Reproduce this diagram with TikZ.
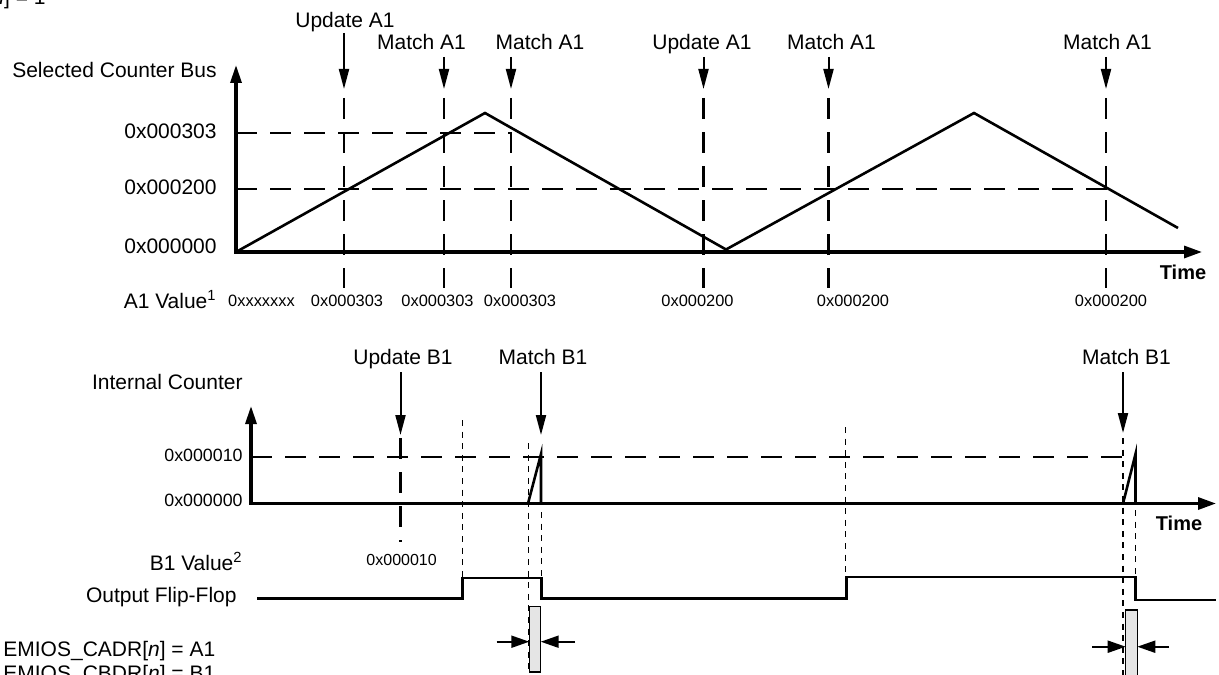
\documentclass[tikz,border=0pt]{standalone}
\usepackage{fontspec}
\setmainfont{Liberation Sans}
\usetikzlibrary{arrows.meta}
\begin{document}
\begin{tikzpicture}[x=0.5pt,y=-0.5pt,
  lbl/.style={font=\fontsize{10.5}{12}\selectfont, inner sep=0pt},
  midlbl/.style={font=\fontsize{8.9}{10}\selectfont, inner sep=0pt},
  hexs/.style={font=\fontsize{8.2}{10}\selectfont, inner sep=0pt},
  timelbl/.style={font=\bfseries\fontsize{10}{12}\selectfont, inner sep=0pt},
  axisline/.style={line width=1.6pt, line join=miter, {Triangle[length=9pt,width=5.5pt]}-{Triangle[length=9pt,width=6pt]}},
  wave/.style={line width=1.3pt},
  guide/.style={line width=1.1pt, dash pattern=on 10.5pt off 6.5pt},
  dotg/.style={line width=0.95pt, dash pattern=on 3pt off 2.8pt},
  marker/.style={line width=1pt, -{Triangle[length=10pt,width=5pt]}},
  smallarr/.style={line width=1pt, -{Triangle[length=9pt,width=6pt]}},
  ffline/.style={line width=1.1pt, line join=miter},
  gapbox/.style={draw=black, line width=0.6pt, fill=black!10}
]
\useasboundingbox (0,0) rectangle (1219,674);
\clip (0,0) rectangle (1219,674);

% ---------- notes (cropped at the picture edges) ----------
\node[lbl, anchor=base east] (topnote) at (46,5) {[\textit{n}] = 1};
\node[lbl, anchor=base west] (cadr) at (3,656) {EMIOS\_CADR[\textit{n}] = A1};
\node[lbl, anchor=base west] (cbdr) at (3,680) {EMIOS\_CBDR[\textit{n}] = B1};

% ---------- upper graph ----------
\coordinate (O1) at (236,252);
\coordinate (Y1) at (236,65);
\coordinate (X1) at (1202,252);

\node[lbl, anchor=base east] (scb) at (217,77) {Selected Counter Bus};
\node[lbl, anchor=base east] (v303) at (217,138.5) {0x000303};
\node[lbl, anchor=base east] (v200) at (217,194) {0x000200};
\node[lbl, anchor=base east] (v000) at (217,253) {0x000000};
\node[lbl, anchor=base east] (a1v) at (217,308) {A1 Value\textsuperscript{1}};
\node[hexs, anchor=base] (hx0) at (261.5,306) {0xxxxxxx};
\node[timelbl, anchor=base] (time1) at (1183,279) {Time};

\coordinate (h303s) at (236,133); \coordinate (h303e) at (512,133);
\coordinate (h200s) at (236,189); \coordinate (h200e) at (1112,189);
\draw[guide] (h303s) -- (h303e);
\draw[guide] (h200s) -- (h200e);

\foreach \i/\lx/\ax/\txt/\lb/\as/\hx/\hv in {
  1/345/344/Update A1/28/33/347/0x000303,
  2/421.5/444/Match A1/50/57/437.5/0x000303,
  3/540/511/Match A1/50/57/520/0x000303,
  4/702/703.5/Update A1/50/57/697.5/0x000200,
  5/831.5/828.5/Match A1/50/57/853/0x000200,
  6/1107.5/1106/Match A1/50/57/1111/0x000200}{
  \node[lbl, anchor=base] (ev\i) at (\lx,\lb) {\txt};
  \coordinate (evs\i) at (\ax,\as);
  \coordinate (evt\i) at (\ax,89);
  \draw[marker] (evs\i) -- (evt\i);
  \coordinate (gs\i) at (\ax,98);
  \coordinate (ge\i) at (\ax,288);
  \draw[guide] (gs\i) -- (ge\i);
  \node[hexs, anchor=base] (hv\i) at (\hx,306) {\hv};
}

\coordinate (w0) at (236,252);
\coordinate (w1) at (485,113);
\coordinate (w2) at (726,249.5);
\coordinate (w3) at (974,113);
\coordinate (w4) at (1178,228);
\draw[wave] (w0) -- (w1) -- (w2) -- (w3) -- (w4);

\draw[axisline] (Y1) -- (O1) -- (X1);

% ---------- lower graph ----------
\coordinate (O2) at (251,503.5);
\coordinate (Y2) at (251,406);
\coordinate (X2) at (1216,503.5);

\node[lbl, anchor=base east] (ic) at (243,389) {Internal Counter};
\node[midlbl, anchor=base east] (v010) at (243,461.5) {0x000010};
\node[midlbl, anchor=base east] (v0000) at (243,506.5) {0x000000};
\node[lbl, anchor=base east] (b1v) at (243,570) {B1 Value\textsuperscript{2}};
\node[lbl, anchor=base east] (off) at (237,602) {Output Flip-Flop};
\node[timelbl, anchor=base] (time2) at (1179,530.5) {Time};

\coordinate (h010s) at (251,457); \coordinate (h010e) at (1127,457);
\draw[guide] (h010s) -- (h010e);

% Update B1
\node[lbl, anchor=base] (ub1) at (403,364) {Update B1};
\coordinate (ub1s) at (400.5,372); \coordinate (ub1t) at (400.5,435);
\draw[marker] (ub1s) -- (ub1t);
\coordinate (ub1g) at (400.5,438); \coordinate (ub1h) at (400.5,542);
\draw[guide] (ub1g) -- (ub1h);
\node[hexs, font=\fontsize{8}{10}\selectfont, anchor=base] (hb1) at (401.6,565) {0x000010};

% Match B1 (1)
\node[lbl, anchor=base] (mb1) at (543,364) {Match B1};
\coordinate (mb1s) at (541,372); \coordinate (mb1t) at (541,435);
\draw[marker] (mb1s) -- (mb1t);

% Match B1 (2)
\node[lbl, anchor=base] (mb2) at (1126.5,364) {Match B1};
\coordinate (mb2s) at (1123,372); \coordinate (mb2t) at (1123,433);
\draw[marker] (mb2s) -- (mb2t);

% gap boxes
\coordinate (bx1a) at (529.3,606.7); \coordinate (bx1b) at (540.7,672);
\coordinate (bx2a) at (1125.7,610); \coordinate (bx2b) at (1137.3,680);
\draw[gapbox] (bx1a) rectangle (bx1b);
\draw[gapbox] (bx2a) rectangle (bx2b);

% dotted markers
\coordinate (d1a) at (462.5,420); \coordinate (d1b) at (462.5,578);
\coordinate (d2a) at (528.5,443); \coordinate (d2b) at (528.5,672);
\coordinate (d3a) at (541.5,512); \coordinate (d3b) at (541.5,578);
\coordinate (d4a) at (845.5,427); \coordinate (d4b) at (845.5,577);
\coordinate (d5a) at (1123,438); \coordinate (d5b) at (1123,676);
\coordinate (d6a) at (1135.5,510); \coordinate (d6b) at (1135.5,577);
\foreach \k in {1,...,6} { \draw[dotg] (d\k a) -- (d\k b); }

% counter ramps
\coordinate (r1a) at (528,503.5); \coordinate (r1b) at (541,454); \coordinate (r1c) at (541,503.5);
\coordinate (r2a) at (1123,503.5); \coordinate (r2b) at (1135.5,454); \coordinate (r2c) at (1135.5,503.5);
\draw[wave] (r1a) -- (r1b) -- (r1c);
\draw[wave] (r2a) -- (r2b) -- (r2c);

\draw[axisline] (Y2) -- (O2) -- (X2);

% output flip-flop
\coordinate (f0) at (257,598.5);
\coordinate (f1) at (462.5,598.5);
\coordinate (f2) at (462.5,578);
\coordinate (f3) at (541.5,578);
\coordinate (f4) at (541.5,598.5);
\coordinate (f5) at (846.5,598.5);
\coordinate (f6) at (846.5,577);
\coordinate (f7) at (1135.5,577);
\coordinate (f8) at (1135.5,600);
\coordinate (f9) at (1216,600);
\draw[ffline] (f0) -- (f1) -- (f2) -- (f3) -- (f4) -- (f5) -- (f6) -- (f7) -- (f8) -- (f9);

% gap arrows
\coordinate (ga1) at (496.7,641.7); \coordinate (gb1) at (529.3,641.7);
\coordinate (gc1) at (575,641.7); \coordinate (gd1) at (540.7,641.7);
\coordinate (ga2) at (1092,646.7); \coordinate (gb2) at (1125.7,646.7);
\coordinate (gc2) at (1169,646.7); \coordinate (gd2) at (1137.3,646.7);
\draw[smallarr] (ga1) -- (gb1);
\draw[smallarr] (gc1) -- (gd1);
\draw[smallarr] (ga2) -- (gb2);
\draw[smallarr] (gc2) -- (gd2);
\end{tikzpicture}
\end{document}
